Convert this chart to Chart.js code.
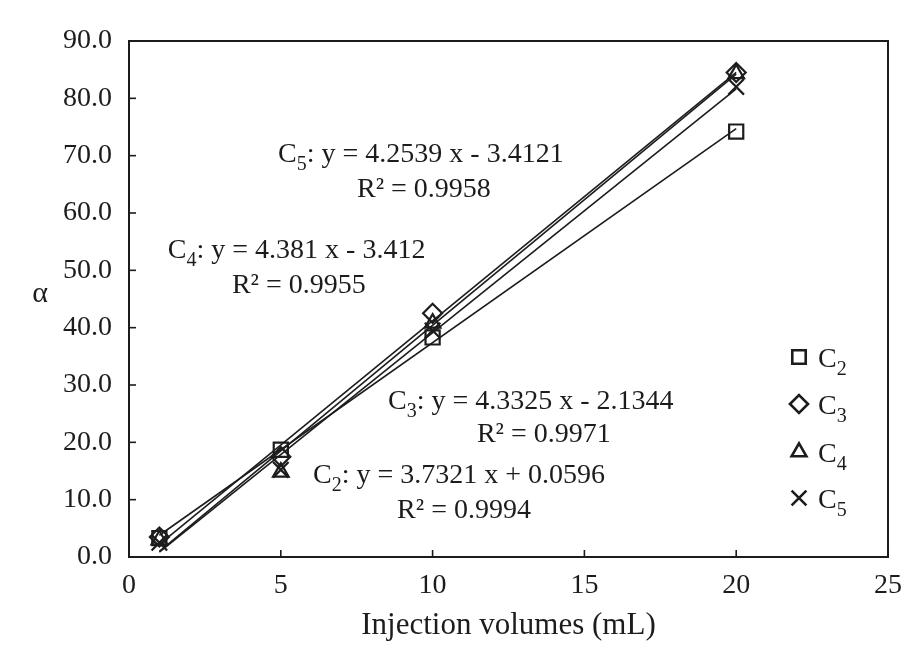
<!DOCTYPE html>
<html>
<head>
<meta charset="utf-8">
<script src="https://cdn.jsdelivr.net/npm/chart.js@4.4.0/dist/chart.umd.min.js"></script>
<style>
  body { margin: 0; background: #fff; }
  #wrap { width: 910px; height: 648px; }
</style>
</head>
<body>
<div id="wrap"><canvas id="chart"></canvas></div>
<script>
// Data
const volumes = [1, 5, 10, 20]
const c2 = [3.3, 18.7, 38.3, 74.2]
const c3 = [3.5, 17.5, 42.5, 84.5]
const c4 = [3.0, 14.8, 40.8, 84.3]
const c5 = [2.5, 15.2, 39.5, 82.0]

// Fitted lines as printed on the chart
const seriesNames = ["2", "3", "4", "5"]
const slopes = [3.7321, 4.3325, 4.381, 4.2539]
const intercepts = [0.0596, -2.1344, -3.412, -3.4121]
const rSquared = ["0.9994", "0.9971", "0.9955", "0.9958"]
const fitRange = [1, 20]

const xTicks = [0, 5, 10, 15, 20, 25]
const yTicks = [0, 10, 20, 30, 40, 50, 60, 70, 80, 90]

const pointStyles = ["rect", "rectRot", "triangle", "crossRot"]
const pointSizes = [10, 9.5, 9, 11]
const seriesValues = [c2, c3, c4, c5]

const serif = "'Liberation Serif', 'DejaVu Serif', serif"
const ink = "#1c1c1c"

const datasets = []

// trend lines
seriesValues.forEach((vals, i) => {
  datasets.push({
    type: "line",
    label: "fit C" + seriesNames[i],
    data: fitRange.map(x => ({ x: x, y: slopes[i] * x + intercepts[i] })),
    borderColor: ink,
    borderWidth: 1.6,
    pointRadius: 0,
    fill: false
  })
})

// measured points
seriesValues.forEach((vals, i) => {
  datasets.push({
    type: "scatter",
    label: "C" + seriesNames[i],
    data: volumes.map((x, j) => ({ x: x, y: vals[j] })),
    pointStyle: pointStyles[i],
    pointRadius: pointSizes[i],
    pointBorderWidth: 2.2,
    borderColor: ink,
    backgroundColor: "rgba(0,0,0,0)",
    showLine: false
  })
})

// equation labels, positioned in data units (left edge, baseline)
const equations = [
  { i: 0, sign: "+", x: 6.06, y: 12.9, rx: 8.83, ry: 6.8 },
  { i: 1, sign: "-", x: 8.53, y: 25.8, rx: 11.46, ry: 20.1 },
  { i: 2, sign: "-", x: 1.28, y: 52.2, rx: 3.39, ry: 46.1 },
  { i: 3, sign: "-", x: 4.91, y: 68.9, rx: 7.51, ry: 62.8 }
]

function drawSub(ctx, x, y, main, sub, size) {
  ctx.font = size + "px " + serif
  ctx.fillText(main, x, y)
  let w = ctx.measureText(main).width
  ctx.font = Math.round(size * 0.72) + "px " + serif
  ctx.fillText(sub, x + w, y + size * 0.3)
  let w2 = ctx.measureText(sub).width
  ctx.font = size + "px " + serif
  return x + w + w2
}

const decorPlugin = {
  id: "decor",
  afterDraw(chart) {
    const ctx = chart.ctx
    const xs = chart.scales.x
    const ys = chart.scales.y
    const area = chart.chartArea
    ctx.save()
    // frame
    ctx.strokeStyle = ink
    ctx.lineWidth = 2
    ctx.strokeRect(area.left, area.top, area.right - area.left, area.bottom - area.top)
    // inward ticks
    ctx.lineWidth = 1.6
    xTicks.forEach(v => {
      const px = xs.getPixelForValue(v)
      ctx.beginPath(); ctx.moveTo(px, area.bottom); ctx.lineTo(px, area.bottom - 7); ctx.stroke()
    })
    yTicks.forEach(v => {
      const py = ys.getPixelForValue(v)
      ctx.beginPath(); ctx.moveTo(area.left, py); ctx.lineTo(area.left + 7, py); ctx.stroke()
    })

    // y axis title, upright
    ctx.fillStyle = ink
    ctx.textAlign = "center"
    ctx.textBaseline = "middle"
    ctx.font = "30px " + serif
    ctx.fillText("\u03b1", 40, 294)

    // equations
    ctx.textBaseline = "alphabetic"
    ctx.textAlign = "left"
    const size = 28
    equations.forEach(e => {
      const k = e.i
      const px = xs.getPixelForValue(e.x)
      const py = ys.getPixelForValue(e.y)
      let nx = drawSub(ctx, px, py, "C", seriesNames[k], size)
      const b = Math.abs(intercepts[k]).toFixed(k == 2 ? 3 : 4)
      ctx.fillText(": y = " + slopes[k] + " x " + e.sign + " " + b, nx, py)
      ctx.fillText("R\u00b2 = " + rSquared[k], xs.getPixelForValue(e.rx), ys.getPixelForValue(e.ry))
    })

    // legend
    const lx = 799
    const ly = [357, 404, 452, 498]
    ly.forEach((y, k) => {
      ctx.strokeStyle = ink
      ctx.fillStyle = "rgba(0,0,0,0)"
      ctx.lineWidth = 2.6
      Chart.helpers.drawPoint(ctx, {
        pointStyle: pointStyles[k],
        radius: pointSizes[k] * 0.95,
        borderWidth: 2.6
      }, lx, y)
      ctx.fillStyle = ink
      drawSub(ctx, 818, y + 10, "C", seriesNames[k], 28)
    })
    ctx.restore()
  }
}

new Chart(document.getElementById("chart"), {
  type: "scatter",
  data: { datasets: datasets },
  options: {
    responsive: true,
    maintainAspectRatio: false,
    animation: false,
    layout: { padding: { top: 41, right: 22, left: 0, bottom: 0 } },
    plugins: {
      legend: { display: false },
      tooltip: { enabled: false }
    },
    scales: {
      x: {
        type: "linear",
        min: 0,
        max: 25,
        afterBuildTicks: s => { s.ticks = xTicks.map(v => ({ value: v })) },
        afterFit: s => { s.height = 648 - 557 },
        grid: { display: false },
        border: { display: false },
        ticks: { color: ink, font: { family: serif, size: 28 }, padding: 4 },
        title: { display: true, text: "Injection volumes (mL)", color: ink, font: { family: serif, size: 31 }, padding: { top: 2 } }
      },
      y: {
        type: "linear",
        min: 0,
        max: 90,
        afterBuildTicks: s => { s.ticks = yTicks.map(v => ({ value: v })) },
        afterFit: s => { s.width = 129 },
        grid: { display: false },
        border: { display: false },
        ticks: { color: ink, font: { family: serif, size: 28 }, padding: 9, callback: v => v.toFixed(1) },
        title: { display: false }
      }
    }
  },
  plugins: [decorPlugin]
})
</script>
</body>
</html>
